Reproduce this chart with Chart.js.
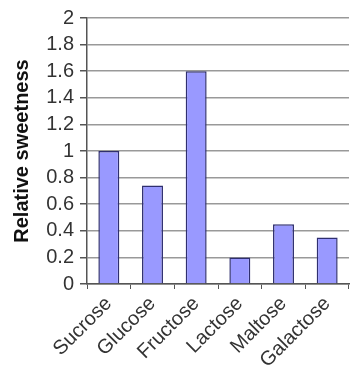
<!DOCTYPE html>
<html>
<head>
<meta charset="utf-8">
<script src="https://cdn.jsdelivr.net/npm/chart.js@4"></script>
<style>
  html, body { margin: 0; padding: 0; background: #fff; }
  #wrap { width: 350px; height: 374px; }
</style>
</head>
<body>
<div id="wrap"><canvas id="myChart" width="350" height="374"></canvas></div>
<script>
// sugars and how sweet they are compared to sucrose
const sugars = ['Sucrose', 'Glucose', 'Fructose', 'Lactose', 'Maltose', 'Galactose'];
const sweetness = [1.0, 0.74, 1.6, 0.2, 0.45, 0.35];
const yTicks = [0, 0.2, 0.4, 0.6, 0.8, 1, 1.2, 1.4, 1.6, 1.8, 2];

const ctx = document.getElementById('myChart').getContext('2d');
const font = "'Liberation Sans', Arial, sans-serif";

new Chart(ctx, {
  type: 'bar',
  data: {
    labels: sugars,
    datasets: [{
      label: 'Relative sweetness',
      data: sweetness,
      backgroundColor: '#9999ff',
      borderColor: '#2f2f6f',
      borderWidth: 1.5,
      categoryPercentage: 1,
      barPercentage: 0.48
    }]
  },
  options: {
    responsive: false,
    animation: false,
    layout: { padding: { top: 12, right: 1, left: 0, bottom: 0 } },
    plugins: {
      legend: { display: false },
      tooltip: { enabled: false }
    },
    scales: {
      x: {
        grid: {
          display: true,
          drawOnChartArea: false,
          drawTicks: true,
          tickLength: 5,
          color: '#555'
        },
        border: { color: '#555', width: 1.5 },
        ticks: {
          color: '#333',
          font: { family: font, size: 20 },
          autoSkip: false,
          maxRotation: 45,
          minRotation: 45,
          padding: 3
        },
        afterFit: (scale) => { scale.height = 90; }
      },
      y: {
        min: 0,
        max: 2,
        afterBuildTicks: (scale) => {
          scale.ticks = yTicks.map(v => ({ value: v }));
        },
        grid: {
          color: '#999',
          lineWidth: 1.5,
          tickLength: 7,
          tickColor: '#555'
        },
        border: { color: '#555', width: 1.5 },
        ticks: {
          color: '#333',
          font: { family: font, size: 20 },
          autoSkip: false,
          padding: 6,
          callback: (v) => String(v)
        },
        title: {
          display: true,
          text: 'Relative sweetness',
          color: '#111',
          font: { family: font, size: 20, weight: 'bold' },
          padding: { top: 10, bottom: 0 }
        },
        afterFit: (scale) => { scale.width = 87; }
      }
    }
  }
});
</script>
</body>
</html>
